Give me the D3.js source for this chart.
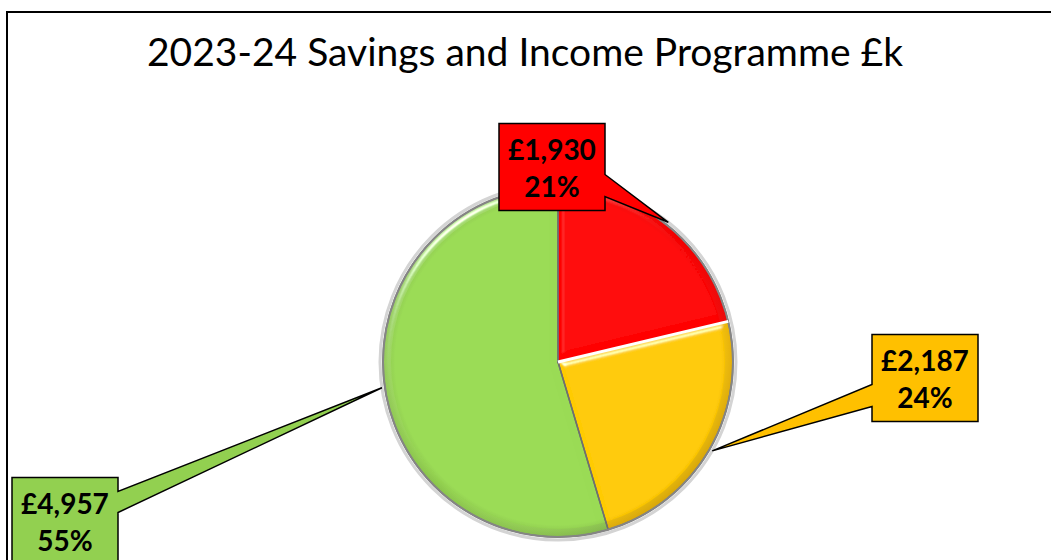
<!DOCTYPE html>
<html>
<head>
<meta charset="utf-8">
<script src="https://cdn.jsdelivr.net/npm/d3@7"></script>
<style>
body { margin: 0; background: #fff; }
text { font-family: Lato, "Open Sans", sans-serif; }
</style>
</head>
<body>
<div id="chart"></div>
<script>
var title = '2023-24 Savings and Income Programme £k';
var categories = ['Red', 'Amber', 'Green'];
var values = [1930, 2187, 4957];
var colours = ['#ff0000', '#ffc000', '#92d050'];

// callout boxes: centre of the box and where the pointer leaves it
var callouts = [
    {cx: 552, cy: 167, side: 'right', p0: 51, p1: 73},
    {cx: 925, cy: 378, side: 'left', p0: 50, p1: 72},
    {cx: 65, cy: 521, side: 'right', p0: 14, p1: 35}
];

var width = 1051, height = 560;
var center = {x: 558, y: 362};
var R = 175;
var boxW = 106, boxH = 87;

var svg = d3.select('#chart').append('svg')
    .attr('width', width)
    .attr('height', height);

// chart frame (right and bottom edges fall outside the picture)
svg.append('rect')
    .attr('x', 7).attr('y', 12)
    .attr('width', 1100).attr('height', 600)
    .attr('fill', '#fff')
    .attr('stroke', '#000')
    .attr('stroke-width', 2);

svg.append('text')
    .attr('x', 525)
    .attr('y', 66)
    .attr('text-anchor', 'middle')
    .style('font-size', '39px')
    .text(title);

var data = categories.map(function(c, i) { return {name: c, value: values[i], colour: colours[i]}; });
var total = d3.sum(values);

var pie = d3.pie().sort(null).value(function(d) { return d.value; });
var arcs = pie(data);
var arc = d3.arc().innerRadius(0).outerRadius(R);

var defs = svg.append('defs');

// soft bevel on each slice, lit from the top left
var f = defs.append('filter').attr('id', 'bevel')
    .attr('x', '-10%').attr('y', '-10%').attr('width', '120%').attr('height', '120%');
f.append('feGaussianBlur').attr('in', 'SourceAlpha').attr('stdDeviation', 3).attr('result', 'blur');
f.append('feSpecularLighting').attr('in', 'blur')
    .attr('surfaceScale', 5).attr('specularConstant', 0.8).attr('specularExponent', 35)
    .attr('lighting-color', '#fff').attr('result', 'spec')
  .append('feDistantLight').attr('azimuth', 235).attr('elevation', 25);
f.append('feComposite').attr('in', 'spec').attr('in2', 'SourceAlpha').attr('operator', 'in').attr('result', 'specIn');
f.append('feComposite').attr('in', 'SourceGraphic').attr('in2', 'specIn')
    .attr('operator', 'arithmetic').attr('k1', 0).attr('k2', 1).attr('k3', 1).attr('k4', 0);

data.forEach(function(d, i) {
    var base = d3.color(d.colour).brighter(0.15);
    var g = defs.append('radialGradient')
        .attr('id', 'shade' + i)
        .attr('gradientUnits', 'userSpaceOnUse')
        .attr('cx', 0).attr('cy', 0).attr('r', R);
    g.append('stop').attr('offset', 0).attr('stop-color', base);
    g.append('stop').attr('offset', 0.93).attr('stop-color', base);
    g.append('stop').attr('offset', 1).attr('stop-color', base.darker(0.35));
});
var rim = defs.append('linearGradient')
    .attr('id', 'rim')
    .attr('x1', 0).attr('y1', 0).attr('x2', 1).attr('y2', 1);
rim.append('stop').attr('offset', 0).attr('stop-color', '#fff').attr('stop-opacity', 0.2);
rim.append('stop').attr('offset', 0.5).attr('stop-color', '#fff').attr('stop-opacity', 0);
rim.append('stop').attr('offset', 1).attr('stop-color', '#000').attr('stop-opacity', 0.2);

var g = svg.append('g')
    .attr('transform', 'translate(' + center.x + ',' + center.y + ')');

// soft outer shadow
g.append('circle')
    .attr('r', R + 3)
    .attr('fill', 'none')
    .attr('stroke', '#d4d4d4')
    .attr('stroke-width', 3);

g.selectAll('.slice')
    .data(arcs)
    .enter().append('path')
    .attr('class', 'slice')
    .attr('d', arc)
    .attr('fill', function(d, i) { return 'url(#shade' + i + ')'; })
    .attr('filter', 'url(#bevel)');

g.selectAll('.edge')
    .data(arcs)
    .enter().append('path')
    .attr('class', 'edge')
    .attr('d', arc)
    .attr('fill', 'none')
    .attr('stroke', '#6f6f6f')
    .attr('stroke-width', 1.5);

// rim shading
g.append('path')
    .attr('d', d3.arc().innerRadius(R - 8).outerRadius(R)({startAngle: 0, endAngle: 2 * Math.PI}))
    .attr('fill', 'url(#rim)');

g.append('circle')
    .attr('r', R)
    .attr('fill', 'none')
    .attr('stroke', '#858585')
    .attr('stroke-width', 2);

// light edge between red and amber
var a = arcs[0].endAngle;
g.append('line')
    .attr('x1', 0).attr('y1', 0)
    .attr('x2', R * Math.sin(a)).attr('y2', -R * Math.cos(a))
    .attr('stroke', '#fff')
    .attr('stroke-width', 3);

// callouts
var fmtVal = d3.format(',');
var fmtPct = d3.format('.0%');

arcs.forEach(function(d, i) {
    var c = callouts[i];
    var mid = (d.startAngle + d.endAngle) / 2;
    var tx = center.x + (R + 3) * Math.sin(mid);
    var ty = center.y - (R + 3) * Math.cos(mid);
    var x0 = c.cx - boxW / 2, x1 = c.cx + boxW / 2;
    var y0 = c.cy - boxH / 2, y1 = c.cy + boxH / 2;
    var p;
    if (c.side === 'right') {
        p = 'M' + x0 + ',' + y0 + 'H' + x1 + 'V' + (y0 + c.p0) + 'L' + tx + ',' + ty +
            'L' + x1 + ',' + (y0 + c.p1) + 'V' + y1 + 'H' + x0 + 'Z';
    } else {
        p = 'M' + x0 + ',' + y0 + 'H' + x1 + 'V' + y1 + 'H' + x0 + 'V' + (y0 + c.p1) +
            'L' + tx + ',' + ty + 'L' + x0 + ',' + (y0 + c.p0) + 'Z';
    }
    svg.append('path')
        .attr('d', p)
        .attr('fill', d.data.colour)
        .attr('stroke', '#000')
        .attr('stroke-width', 1.5)
        .attr('stroke-linejoin', 'miter');

    var t = svg.append('text')
        .attr('text-anchor', 'middle')
        .style('font-size', '28px')
        .style('font-weight', 'bold');
    t.append('tspan').attr('x', c.cx).attr('y', c.cy - 7).text('£' + fmtVal(d.data.value));
    t.append('tspan').attr('x', c.cx).attr('y', c.cy + 30).text(fmtPct(d.data.value / total));
});
</script>
</body>
</html>
